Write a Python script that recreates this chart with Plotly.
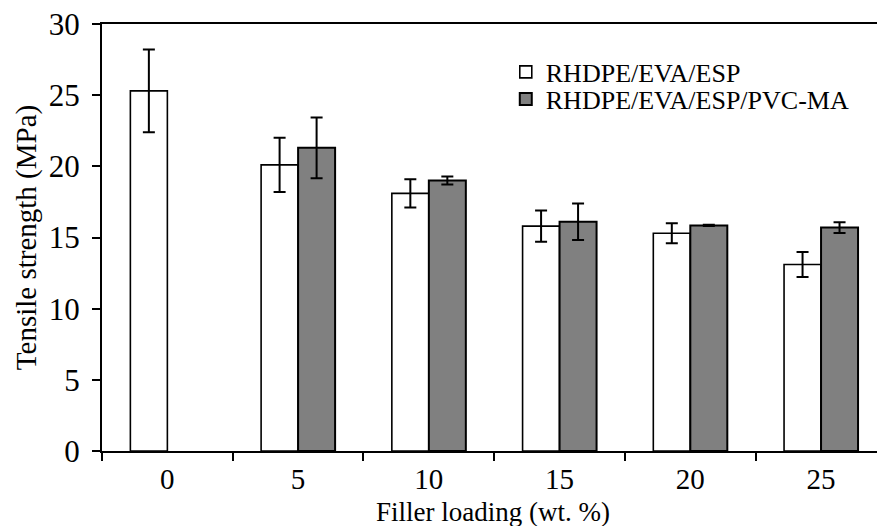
import plotly.graph_objects as go

categories = ["0", "5", "10", "15", "20", "25"]
series_a_name = "RHDPE/EVA/ESP"
series_b_name = "RHDPE/EVA/ESP/PVC-MA"
series_a = [25.3, 20.1, 18.1, 15.8, 15.3, 13.1]
series_a_err = [2.9, 1.9, 1.0, 1.1, 0.7, 0.88]
series_b = [None, 21.3, 19.0, 16.1, 15.85, 15.7]
series_b_err = [None, 2.13, 0.28, 1.28, 0.05, 0.38]
y_ticks = [0, 5, 10, 15, 20, 25, 30]
x_title = "Filler loading (wt. %)"
y_title = "Tensile strength (MPa)"

FONT = "Liberation Serif, Times New Roman, serif"

fig = go.Figure()
fig.add_trace(go.Bar(
    x=categories, y=series_a, name=series_a_name, legend="legend",
    marker=dict(color="white", line=dict(color="black", width=1.6)),
    error_y=dict(type="data", array=series_a_err, visible=True,
                 color="black", thickness=2, width=6),
))
fig.add_trace(go.Bar(
    x=categories, y=series_b, name=series_b_name, legend="legend2",
    marker=dict(color="#808080", line=dict(color="black", width=2)),
    error_y=dict(type="data", array=series_b_err, visible=True,
                 color="black", thickness=2, width=6),
))

legend_common = dict(xanchor="left", yanchor="middle",
                     font=dict(size=26, family=FONT), bgcolor="rgba(0,0,0,0)",
                     itemwidth=30, borderwidth=0)

fig.update_layout(
    width=877, height=526,
    margin=dict(l=102, r=0, t=24, b=75),
    paper_bgcolor="white", plot_bgcolor="white",
    barmode="group", bargap=0.434, bargroupgap=0,
    font=dict(family=FONT, color="black", size=29),
    showlegend=True,
    legend=dict(x=0.521, y=0.8876, **legend_common),
    legend2=dict(x=0.521, y=0.8244, **legend_common),
    xaxis=dict(
        type="category", range=[-0.5, 5.428], automargin=False,
        tickson="boundaries", ticks="outside", ticklen=8, tickwidth=2,
        tickcolor="black", showline=True, linecolor="black", linewidth=2,
        mirror=True, showgrid=False, zeroline=False,
        tickfont=dict(size=29, family=FONT),
        ticklabelstandoff=1,
    ),
    yaxis=dict(
        range=[0, 30], tickvals=y_ticks, ticks="outside", ticklen=8, tickwidth=2,
        tickcolor="black", showline=True, linecolor="black", linewidth=2,
        showgrid=False, zeroline=False, automargin=False,
        tickfont=dict(size=31, family=FONT),
        title=dict(text=y_title, font=dict(size=29, family=FONT), standoff=4),
        ticklabelstandoff=6,
    ),
    annotations=[dict(
        text=x_title, xref="paper", yref="paper", x=0.505, y=-0.142,
        xanchor="center", yanchor="middle", showarrow=False,
        font=dict(size=27, family=FONT, color="black"),
    )],
)

fig.write_html("out.html")
